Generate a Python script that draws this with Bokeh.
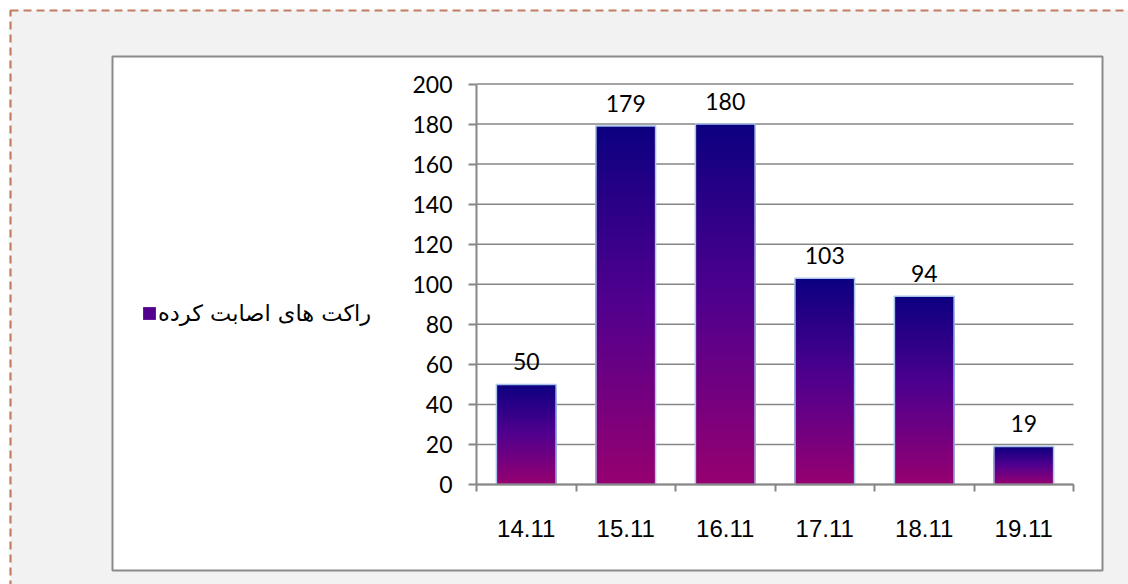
from bokeh.plotting import figure
from bokeh.models import (Range1d, FixedTicker, ColumnDataSource, LabelSet,
                          BoxAnnotation, Legend, LegendItem, LinearAxis)
from bokeh.core.properties import value
from bokeh.embed import file_html
from bokeh.resources import INLINE

# ---------------- data ----------------
categories = ["14.11", "15.11", "16.11", "17.11", "18.11", "19.11"]
rockets = [50, 179, 180, 103, 94, 19]
y_ticks = [0, 20, 40, 60, 80, 100, 120, 140, 160, 180, 200]
series_name = "راکت های اصابت کرده"

# ---------------- layout / styling ----------------
W, H = 1128, 584
PLOT_L, PLOT_R, PLOT_T, PLOT_B = 476, 1073, 83.5, 484   # plot area in pixels
GRAY = "#868686"
GRAD_STOPS = [(0.0, (150, 0, 112)), (0.5, (82, 0, 142)), (1.0, (12, 0, 128))]


def grad(f):
    for (f0, c0), (f1, c1) in zip(GRAD_STOPS[:-1], GRAD_STOPS[1:]):
        if f0 <= f <= f1:
            t = (f - f0) / (f1 - f0)
            r, g, b = (round(a + (bb - a) * t) for a, bb in zip(c0, c1))
            return "#%02x%02x%02x" % (r, g, b)
    return "#%02x%02x%02x" % GRAD_STOPS[-1][1]


n = len(categories)
xmin, xmax = -0.5, n - 0.5
ymin, ymax = y_ticks[0], y_ticks[-1]
sx = (PLOT_R - PLOT_L) / (xmax - xmin)
sy = (PLOT_B - PLOT_T) / (ymax - ymin)
x_range = Range1d(xmin - PLOT_L / sx, xmax + (W - PLOT_R) / sx)
y_range = Range1d(ymin - (H - PLOT_B) / sy, ymax + PLOT_T / sy)

p = figure(width=W, height=H, output_backend="svg", toolbar_location=None,
           x_range=x_range, y_range=y_range,
           x_axis_location=None, y_axis_location=None)
p.min_border = 0
p.min_border_left = p.min_border_right = p.min_border_top = p.min_border_bottom = 0
p.outline_line_color = None
p.background_fill_color = "white"
p.border_fill_color = "white"
p.xgrid.visible = False
p.ygrid.visible = False

# outer gray area with dashed border, inner white chart box
outer = BoxAnnotation(left=10, right=W + 20, top=10, bottom=H + 20,
                      left_units="canvas", right_units="canvas",
                      top_units="canvas", bottom_units="canvas",
                      fill_color="#f2f2f2", fill_alpha=1,
                      line_color="#c27c60", line_alpha=1, line_width=2.2,
                      line_dash="8 5", level="image")
inner = BoxAnnotation(left=112, right=1102, top=56, bottom=570,
                      left_units="canvas", right_units="canvas",
                      top_units="canvas", bottom_units="canvas",
                      fill_color="white", fill_alpha=1,
                      line_color="#8a8a8a", line_alpha=1, line_width=2,
                      level="image")
p.add_layout(outer)
p.add_layout(inner)

# horizontal grid lines over the plot area
p.segment(x0=xmin, x1=xmax, y0=y_ticks, y1=y_ticks,
          line_color=GRAY, line_width=1.5)

# gradient bars: nested slices, drawn from tallest (top colour) to shortest
N = 64
xs, tops, cols = [], [], []
for k in range(N):
    f = (N - k) / N
    for i, v in enumerate(rockets):
        xs.append(i)
        tops.append(v * f)
        cols.append(grad(f - 0.5 / N))
grad_src = ColumnDataSource(dict(x=xs, top=tops, color=cols))
grad_r = p.vbar(x="x", top="top", bottom=0, width=0.6, fill_color="color",
                line_color=None, source=grad_src)

src = ColumnDataSource(dict(x=list(range(n)), top=rockets,
                            label=[str(v) for v in rockets]))
outline_r = p.vbar(x="x", top="top", bottom=0, width=0.6, fill_color=None,
                   line_color="#a9c4eb", line_width=1.5, source=src)

labels = LabelSet(x="x", y="top", text="label", source=src,
                  text_align="center", text_baseline="middle", y_offset=23,
                  text_font=value("Lato"), text_font_size="23px",
                  text_color="black")
p.add_layout(labels)

# legend: swatch takes the mid-gradient colour of the bars
legend = Legend(items=[LegendItem(label=series_name,
                                  renderers=[grad_r, outline_r],
                                  index=(N // 2) * n)],
                location=(141, H - 326), padding=0, margin=0, spacing=0,
                glyph_width=16, glyph_height=16, label_standoff=1,
                label_text_font="DejaVu Sans", label_text_font_size="22.5px",
                label_text_color="black",
                border_line_color=None, background_fill_alpha=0)
p.add_layout(legend)

# axes (fixed at the plot-area edges)
xaxis = LinearAxis(fixed_location=ymin, bounds=(xmin, xmax))
xaxis.ticker = FixedTicker(ticks=list(range(n)),
                           minor_ticks=[i - 0.5 for i in range(n + 1)])
xaxis.major_label_overrides = {i: c for i, c in enumerate(categories)}
xaxis.major_tick_line_color = None
xaxis.major_tick_out = 0
xaxis.major_tick_in = 0
xaxis.minor_tick_out = 7
xaxis.minor_tick_in = 0
xaxis.minor_tick_line_color = GRAY
xaxis.minor_tick_line_width = 2
xaxis.axis_line_color = GRAY
xaxis.axis_line_width = 2
xaxis.major_label_text_font = "Liberation Sans"
xaxis.major_label_text_font_size = "24px"
xaxis.major_label_text_color = "black"
xaxis.major_label_standoff = 28
p.add_layout(xaxis, "below")

yaxis = LinearAxis(fixed_location=xmin, bounds=(ymin, ymax))
yaxis.ticker = FixedTicker(ticks=y_ticks, minor_ticks=[])
yaxis.major_tick_out = 8
yaxis.major_tick_in = 0
yaxis.major_tick_line_color = GRAY
yaxis.major_tick_line_width = 2
yaxis.minor_tick_line_color = None
yaxis.axis_line_color = GRAY
yaxis.axis_line_width = 2
yaxis.major_label_text_font = "Lato"
yaxis.major_label_text_font_size = "23px"
yaxis.major_label_text_color = "black"
yaxis.major_label_standoff = 16
p.add_layout(yaxis, "left")

open("out.html", "w").write(file_html(p, INLINE))
